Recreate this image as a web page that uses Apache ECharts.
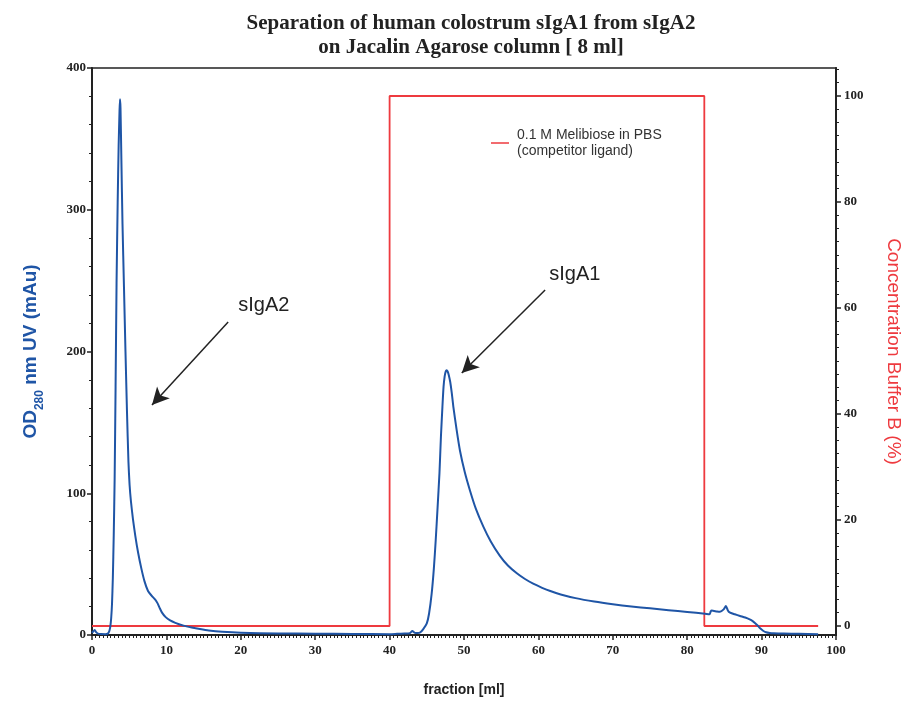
<!DOCTYPE html>
<html>
<head>
<meta charset="utf-8">
<title>sIgA1 / sIgA2 separation</title>
<script src="https://cdn.jsdelivr.net/npm/echarts@6/dist/echarts.min.js"></script>
<style>
	html, body { margin: 0; padding: 0; background: #fff; }
	#chart { width: 903px; height: 702px; }
</style>
</head>
<body>
<div id="chart"></div>
<script>
// UV trace, [fraction ml, OD280 mAu]
var uvData = [
	[0, 1.5], [0.15, 2.5], [0.36, 3.5], [0.55, 2], [0.8, 1], [1.2, 0.7], [1.8, 0.6], [2.1, 0.9],
	[2.24, 1.7], [2.35, 3.2], [2.46, 5.9], [2.58, 12], [2.69, 22], [2.8, 40], [2.92, 70], [3.04, 109],
	[3.17, 175], [3.3, 248], [3.45, 305], [3.58, 345], [3.7, 370], [3.76, 378], [3.83, 372], [3.95, 335],
	[4.1, 290], [4.3, 245], [4.5, 200], [4.7, 158], [4.9, 122], [5.05, 106], [5.24, 94], [5.5, 82],
	[5.82, 70], [6.2, 58], [6.63, 47], [7.05, 38], [7.53, 31], [8.0, 27.8], [8.5, 25], [8.8, 22.5],
	[9.1, 19], [9.41, 15.8], [9.9, 12.6], [10.5, 10.3], [11.2, 8.6], [12.3, 6.6], [13.4, 5.3], [14.5, 4.2],
	[15.7, 3.2], [17.5, 2.3], [20, 1.6], [25, 1.1], [30, 0.9], [35, 0.7], [40, 0.6], [41, 0.8],
	[42, 1], [42.7, 1.2], [43.06, 2.8], [43.4, 1.5], [43.8, 1.4], [44.1, 1.8], [44.5, 4], [45, 8.2],
	[45.3, 15], [45.65, 29], [45.95, 47], [46.2, 67], [46.45, 90], [46.7, 114], [46.9, 140], [47.1, 161],
	[47.25, 175], [47.4, 182.5], [47.55, 186], [47.67, 186.8], [47.8, 186], [47.95, 183.5], [48.15, 178.5], [48.35, 171],
	[48.57, 161], [49.0, 145], [49.46, 130], [50.1, 115], [50.8, 102], [51.6, 89], [52.6, 76.5], [53.6, 66],
	[54.8, 56], [55.9, 49], [57.1, 43.5], [58.2, 39.5], [59.3, 36.2], [60.5, 33.3], [61.6, 31], [63, 28.6],
	[65, 26], [67.5, 23.6], [70, 21.7], [72.5, 20.1], [75, 18.8], [77.5, 17.5], [80, 16.3], [82.4, 15],
	[83.0, 14.6], [83.15, 16.5], [83.3, 17.2], [84.0, 16.6], [84.4, 16.4], [84.9, 18.1], [85.2, 20.5], [85.45, 17.5],
	[85.7, 15.9], [86.4, 14.6], [87.1, 13.4], [87.8, 12.3], [88.4, 11], [88.8, 9.8], [89.1, 8.5], [89.5, 6.5],
	[89.8, 4.7], [90.2, 3], [90.6, 1.9], [91.1, 1.4], [91.6, 1.2], [93, 1], [95, 0.8], [97.6, 0.6]
];

// buffer B step gradient, [fraction ml, %]
var bufferData = [[0, 0], [40, 0], [40, 100], [82.3, 100], [82.3, 0], [97.6, 0]];

var bufferTicks = [0, 20, 40, 60, 80, 100];
var bufferMinorTicks = [];
for (var v = 2.5; v <= 105; v += 2.5) {
	if (v % 20 !== 0) bufferMinorTicks.push(v);
}

// arrows: [from, to] in data coords (left axis)
var arrowA2 = [[18.3, 220.8], [8.06, 162.3]];
var arrowA1 = [[60.9, 243.4], [49.7, 184.8]];
var peakLabels = [
	{ name: 'sIgA2', coord: [23.1, 232.8] },
	{ name: 'sIgA1', coord: [64.9, 254.0] }
];

var legendName = '0.1 M Melibiose in PBS\n(competitor ligand)';

var BLUE = '#1f55a6';
var RED = '#ee3a3f';
var INK = '#222';
var serifTick = { fontFamily: 'Liberation Serif', fontWeight: 'bold', fontSize: 13, color: INK };

var chart = echarts.init(document.getElementById('chart'));

var option = {
	animation: false,
	backgroundColor: '#fff',
	title: {
		text: 'Separation of human colostrum sIgA1 from sIgA2\non Jacalin Agarose column [ 8 ml]',
		left: 466,
		top: 7,
		textAlign: 'center',
		textStyle: {
			fontFamily: 'Liberation Serif',
			fontWeight: 'bold',
			fontSize: 21,
			lineHeight: 24,
			color: INK
		}
	},
	legend: {
		data: [legendName],
		left: 491,
		top: 127,
		padding: 0,
		icon: 'rect',
		itemWidth: 18,
		itemHeight: 1.5,
		textStyle: { fontFamily: 'Liberation Sans', fontSize: 14, lineHeight: 16, color: '#333', padding: [0, 0, 0, 3] }
	},
	grid: {
		left: 92,
		right: 67,
		top: 68,
		bottom: 67,
		outerBoundsMode: 'none',
		show: true,
		borderColor: INK,
		borderWidth: 1.5
	},
	xAxis: {
		type: 'value',
		min: 0,
		max: 100,
		interval: 10,
		name: 'fraction [ml]',
		nameLocation: 'middle',
		nameGap: 48,
		nameTextStyle: { fontFamily: 'Liberation Sans', fontWeight: 'bold', fontSize: 14, color: INK },
		axisLine: { lineStyle: { color: INK, width: 2 } },
		axisTick: { length: 5, lineStyle: { color: INK, width: 1.5 } },
		minorTick: { show: true, splitNumber: 20, length: 3, lineStyle: { color: INK, width: 1 } },
		axisLabel: Object.assign({ margin: 9 }, serifTick),
		splitLine: { show: false }
	},
	yAxis: [{
		type: 'value',
		min: 0,
		max: 400,
		interval: 100,
		name: '{b|OD}{s|280}{b| nm UV (mAu)}',
		nameLocation: 'middle',
		nameRotate: 90,
		nameGap: 50,
		nameTextStyle: {
			rich: {
				b: { fontFamily: 'Liberation Sans', fontWeight: 'bold', fontSize: 19, color: BLUE, lineHeight: 22 },
				s: { fontFamily: 'Liberation Sans', fontWeight: 'bold', fontSize: 12, color: BLUE, verticalAlign: 'bottom', padding: [0, 0, -4, 0] }
			}
		},
		axisLine: { show: true, lineStyle: { color: INK, width: 2 } },
		axisTick: { show: true, length: 5, lineStyle: { color: INK, width: 1.5 } },
		minorTick: { show: true, splitNumber: 5, length: 3, lineStyle: { color: INK, width: 1 } },
		axisLabel: Object.assign({ margin: 6 }, serifTick),
		splitLine: { show: false }
	}, {
		type: 'value',
		position: 'right',
		min: -1.698,
		max: 105.28,
		name: 'Concentration Buffer B (%)',
		nameLocation: 'middle',
		nameRotate: -90,
		nameGap: 48,
		nameTextStyle: { fontFamily: 'Liberation Sans', fontSize: 19, color: RED },
		axisLine: { show: true, lineStyle: { color: INK, width: 2 } },
		axisTick: { show: true, length: 5, customValues: bufferTicks, lineStyle: { color: INK, width: 1.5 } },
		axisLabel: Object.assign({ margin: 8, customValues: bufferTicks }, serifTick),
		splitLine: { show: false }
	}, {
		// minor ticks of the buffer axis
		type: 'value',
		position: 'right',
		min: -1.698,
		max: 105.28,
		axisLine: { show: false },
		axisTick: { show: true, length: 3, customValues: bufferMinorTicks, lineStyle: { color: INK, width: 1 } },
		axisLabel: { show: false },
		splitLine: { show: false }
	}],
	series: [{
		name: 'UV',
		type: 'line',
		yAxisIndex: 0,
		data: uvData,
		showSymbol: false,
		smooth: 0.2,
		lineStyle: { color: BLUE, width: 2, join: 'round' },
		itemStyle: { color: BLUE },
		z: 3,
		markLine: {
			silent: true,
			symbol: ['none', 'arrow'],
			symbolSize: [13, 17],
			lineStyle: { color: INK, width: 1.5, type: 'solid' },
			label: { show: false },
			data: [
				[{ coord: arrowA2[0] }, { coord: arrowA2[1] }],
				[{ coord: arrowA1[0] }, { coord: arrowA1[1] }]
			]
		},
		markPoint: {
			silent: true,
			symbol: 'circle',
			symbolSize: 0,
			label: {
				show: true,
				position: 'inside',
				formatter: function(p) { return p.name; },
				fontFamily: 'Liberation Sans',
				fontSize: 20,
				color: INK
			},
			data: peakLabels
		}
	}, {
		name: legendName,
		type: 'line',
		yAxisIndex: 1,
		data: bufferData,
		showSymbol: false,
		lineStyle: { color: RED, width: 1.8 },
		itemStyle: { color: RED },
		z: 2
	}]
};

chart.setOption(option);
</script>
</body>
</html>
